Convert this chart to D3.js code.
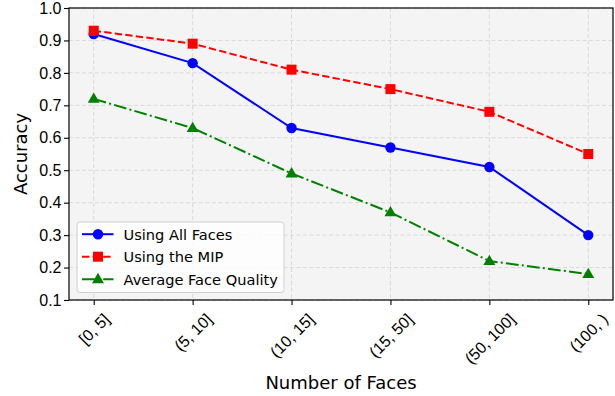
<!DOCTYPE html>
<html>
<head>
<meta charset="utf-8">
<script src="https://cdn.jsdelivr.net/npm/d3@7"></script>
<style>
  html, body { margin: 0; padding: 0; background: #fff; }
  svg { display: block; font-family: "DejaVu Sans", sans-serif; }
</style>
</head>
<body>
<svg id="chart" width="615" height="396"></svg>
<script>
// Face-count buckets along the x axis
const categories = ["[0, 5]", "(5, 10]", "(10, 15]", "(15, 50]", "(50, 100]", "(100, )"];

// Accuracy per bucket for each method
const allFaces = [0.92, 0.83, 0.63, 0.57, 0.51, 0.30];
const mipValues = [0.93, 0.89, 0.81, 0.75, 0.68, 0.55];
const avgQuality = [0.72, 0.63, 0.49, 0.37, 0.22, 0.18];

const yTicks = [0.1, 0.2, 0.3, 0.4, 0.5, 0.6, 0.7, 0.8, 0.9, 1.0];

const seriesNames = ["Using All Faces", "Using the MIP", "Average Face Quality"];

const series = [
  { name: seriesNames[0], values: allFaces, color: "#0000ff", dash: null, marker: "circle" },
  { name: seriesNames[1], values: mipValues, color: "#ff0000", dash: "7.4,3.2", marker: "square" },
  { name: seriesNames[2], values: avgQuality, color: "#008000", dash: "12.8,3.2,2,3.2", marker: "triangle" }
];

const TICK_FONT = 16;
const LEGEND_FONT = 14.6;
const LABEL_FONT = 18;

const svg = d3.select("#chart");
const margin = { left: 69, right: 2, top: 8, bottom: 96 };
const W = 615, H = 396;
const innerW = W - margin.left - margin.right;
const innerH = H - margin.top - margin.bottom;

const g = svg.append("g").attr("transform", `translate(${margin.left},${margin.top})`);

const x = d3.scaleLinear().domain([-0.25, categories.length - 1 + 0.25]).range([0, innerW]);
const y = d3.scaleLinear().domain([0.1, 1.0]).range([innerH, 0]);

// Axes background
g.append("rect").attr("width", innerW).attr("height", innerH).attr("fill", "#f4f4f4");

// Grid
const grid = g.append("g").attr("stroke", "#d9d9d9").attr("stroke-dasharray", "4,2.5").attr("stroke-width", 1);
yTicks.forEach(t => {
  grid.append("line").attr("x1", 0).attr("x2", innerW).attr("y1", y(t)).attr("y2", y(t));
});
categories.forEach((c, i) => {
  grid.append("line").attr("x1", x(i)).attr("x2", x(i)).attr("y1", 0).attr("y2", innerH);
});

// Axes
const xAxis = d3.axisBottom(x).tickValues(d3.range(categories.length)).tickFormat(i => categories[i]).tickSize(5).tickSizeOuter(0);
const yAxis = d3.axisLeft(y).tickValues(yTicks).tickFormat(d3.format(".1f")).tickSize(5).tickSizeOuter(0);

const xg = g.append("g").attr("transform", `translate(0,${innerH})`).call(xAxis);
xg.select(".domain").remove();
xg.selectAll(".tick line").attr("stroke-width", 1.1);
// Rotated labels: the rotated box is centred under its tick
xg.selectAll("text")
  .attr("font-size", TICK_FONT).attr("fill", "#000")
  .attr("text-anchor", "middle")
  .attr("dominant-baseline", "central")
  .attr("dy", null).attr("x", 0).attr("y", 0)
  .each(function () {
    const L = this.getComputedTextLength();
    const h = TICK_FONT * 0.95;
    const half = (L + h) / Math.SQRT2 / 2;
    d3.select(this).attr("transform", `translate(0,${11 + half}) rotate(-45)`);
  });

const yg = g.append("g").call(yAxis);
yg.select(".domain").remove();
yg.selectAll(".tick line").attr("stroke-width", 1.1);
yg.selectAll("text").attr("font-size", TICK_FONT).attr("fill", "#000").attr("x", -7.5);

// Data lines and markers
const line = d3.line().x((d, i) => x(i)).y(d => y(d));

series.forEach(s => {
  g.append("path").datum(s.values)
    .attr("d", line).attr("fill", "none")
    .attr("stroke", s.color).attr("stroke-width", 2)
    .attr("stroke-dasharray", s.dash);
});

function drawMarker(sel, type, cx, cy, color) {
  if (type === "circle") {
    sel.append("circle").attr("cx", cx).attr("cy", cy).attr("r", 5.2).attr("fill", color);
  } else if (type === "square") {
    sel.append("rect").attr("x", cx - 5).attr("y", cy - 5).attr("width", 10).attr("height", 10).attr("fill", color);
  } else {
    const s = d3.symbol().type(d3.symbolTriangle).size(62);
    sel.append("path").attr("d", s()).attr("transform", `translate(${cx},${cy + 0.5})`).attr("fill", color);
  }
}

series.forEach(s => {
  const mg = g.append("g");
  s.values.forEach((v, i) => drawMarker(mg, s.marker, x(i), y(v), s.color));
});

// Frame
g.append("rect").attr("width", innerW).attr("height", innerH).attr("fill", "none").attr("stroke", "#000").attr("stroke-width", 1.2);

// Legend
const lg = svg.append("g").attr("transform", "translate(77,222)");
lg.append("rect").attr("width", 207).attr("height", 70.5).attr("rx", 3)
  .attr("fill", "#fff").attr("fill-opacity", 0.8).attr("stroke", "#d0d0d0");
series.forEach((s, i) => {
  const yy = 12.2 + i * 22.5;
  lg.append("line").attr("x1", 5).attr("x2", 36.5).attr("y1", yy).attr("y2", yy)
    .attr("stroke", s.color).attr("stroke-width", 2).attr("stroke-dasharray", s.dash);
  drawMarker(lg, s.marker, 21, yy, s.color);
  lg.append("text").attr("x", 46.5).attr("y", yy).attr("dominant-baseline", "central")
    .attr("font-size", LEGEND_FONT).text(s.name);
});

// Axis titles
svg.append("text").attr("x", margin.left + innerW / 2).attr("y", 389)
  .attr("text-anchor", "middle").attr("font-size", LABEL_FONT).text("Number of Faces");
svg.append("text").attr("transform", `translate(27,${margin.top + innerH / 2}) rotate(-90)`)
  .attr("text-anchor", "middle").attr("font-size", LABEL_FONT).text("Accuracy");
</script>
</body>
</html>
